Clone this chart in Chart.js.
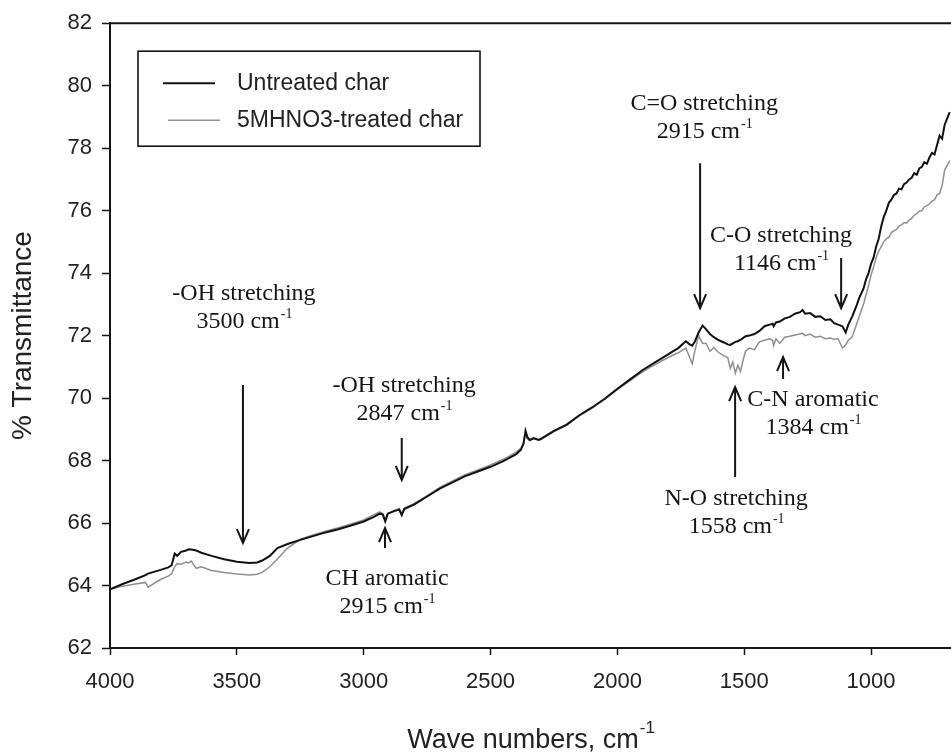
<!DOCTYPE html>
<html>
<head>
<meta charset="utf-8">
<script src="https://cdn.jsdelivr.net/npm/chart.js@4.4.1/dist/chart.umd.min.js"></script>
<style>
  html, body { margin: 0; padding: 0; background: #fff; }
  canvas { display: block; }
</style>
</head>
<body>
<canvas id="ftir" width="951" height="754"></canvas>
<script>
// FTIR spectra of the two chars, wavenumber (cm-1) vs % transmittance
const wavenumbers = [
  4000, 3950, 3900, 3860, 3850, 3800, 3770, 3757, 3745, 3735,
  3720, 3700, 3690, 3680, 3660, 3640, 3600, 3550, 3500, 3450,
  3420, 3400, 3370, 3340, 3300, 3250, 3200, 3150, 3100, 3050,
  3000, 2960, 2937, 2925, 2915, 2905, 2880, 2860, 2850, 2840,
  2800, 2750, 2700, 2650, 2600, 2550, 2500, 2450, 2400, 2380,
  2370, 2362, 2355, 2345, 2330, 2310, 2300, 2250, 2200, 2150,
  2100, 2050, 2000, 1950, 1900, 1850, 1800, 1780, 1760, 1740,
  1730, 1715, 1705, 1695, 1680, 1664, 1650, 1635, 1620, 1600,
  1580, 1565, 1555, 1545, 1535, 1525, 1515, 1505, 1495, 1480,
  1460, 1440, 1420, 1400, 1388, 1384, 1375, 1360, 1340, 1320,
  1300, 1280, 1270, 1260, 1240, 1220, 1200, 1180, 1160, 1146,
  1130, 1113, 1100, 1090, 1075, 1060, 1047, 1030, 1020, 1010,
  1000, 990, 980, 970, 960, 950, 940, 930, 920, 910,
  900, 890, 880, 870, 860, 850, 840, 830, 820, 810,
  800, 790, 780, 770, 760, 750, 740, 730, 720, 710,
  700, 690
]

const untreated = [
  63.88, 64.05, 64.2, 64.33, 64.38, 64.5, 64.58, 64.65, 65.02, 64.95,
  65.08, 65.12, 65.16, 65.15, 65.12, 65.05, 64.95, 64.84, 64.76, 64.72,
  64.74, 64.8, 64.95, 65.2, 65.33, 65.46, 65.58, 65.7, 65.8, 65.92,
  66.05, 66.2, 66.3, 66.28, 66.05, 66.3, 66.38, 66.43, 66.25, 66.45,
  66.6, 66.85, 67.1, 67.3, 67.5, 67.65, 67.8, 67.98, 68.2, 68.35,
  68.55, 68.95, 68.75, 68.66, 68.72, 68.66, 68.7, 68.95, 69.15, 69.45,
  69.7, 69.98, 70.3, 70.6, 70.9, 71.15, 71.4, 71.5, 71.6, 71.75,
  71.82, 71.72, 71.68, 71.8, 72.1, 72.32, 72.2, 72.05, 71.95, 71.85,
  71.78, 71.72, 71.7, 71.75, 71.8, 71.82, 71.86, 71.92, 71.98, 72.0,
  72.05, 72.15, 72.3, 72.35, 72.38, 72.3, 72.42, 72.45, 72.55, 72.6,
  72.7, 72.75, 72.82, 72.7, 72.72, 72.6, 72.62, 72.5, 72.52, 72.4,
  72.35, 72.3, 72.1, 72.35, 72.6, 72.9, 73.2, 73.5, 73.8, 74.0,
  74.3, 74.5, 74.85, 75.1, 75.5, 75.8, 76.0, 76.25, 76.35, 76.5,
  76.55, 76.7, 76.68, 76.85, 76.9, 77.0, 77.05, 77.2, 77.15, 77.35,
  77.4, 77.55, 77.5, 77.7, 77.85, 77.8, 78.1, 78.4, 78.3, 78.75,
  78.95, 79.15
]

const treated = [
  63.88, 63.98, 64.05, 64.1, 63.95, 64.2, 64.3, 64.38, 64.6, 64.7,
  64.68, 64.75, 64.72, 64.78, 64.55, 64.6, 64.48, 64.42, 64.37, 64.34,
  64.36, 64.42, 64.6, 64.85, 65.2, 65.48, 65.62, 65.74, 65.85, 65.97,
  66.1, 66.27, 66.36, 66.3, 66.12, 66.3, 66.4, 66.47, 66.3, 66.48,
  66.63, 66.88, 67.14, 67.35, 67.55, 67.7, 67.86, 68.04, 68.26, 68.4,
  68.55, 68.9, 68.7, 68.64, 68.7, 68.65, 68.68, 68.93, 69.13, 69.43,
  69.68, 69.96, 70.27, 70.56, 70.85, 71.08, 71.3, 71.38, 71.45, 71.55,
  71.6, 71.3, 71.1, 71.5, 72.0, 71.75, 71.75, 71.5, 71.62, 71.45,
  71.35, 71.3, 70.95, 71.15, 70.8, 71.05, 70.85, 71.2, 71.5, 71.6,
  71.55, 71.8, 71.85, 71.9, 71.85, 71.68, 71.9, 71.75, 71.95, 71.98,
  72.02, 72.05, 72.08, 72.0, 72.05, 71.95, 71.98, 71.9, 71.92, 71.88,
  71.9, 71.6, 71.7, 71.85, 71.95, 72.3, 72.6, 73.0, 73.3, 73.6,
  73.95, 74.2, 74.5, 74.7, 74.85, 75.0, 75.1, 75.15, 75.3, 75.35,
  75.4, 75.5, 75.55, 75.62, 75.6, 75.7, 75.75, 75.85, 75.9, 75.98,
  76.0, 76.12, 76.15, 76.22, 76.3, 76.35, 76.5, 76.55, 76.8, 77.3,
  77.45, 77.6
]

const seriesNames = ['Untreated char', '5MHNO3-treated char']
const xTicks = [4000, 3500, 3000, 2500, 2000, 1500, 1000]

// band assignments written on the plot
const bandNames = ['-OH stretching', '-OH stretching', 'CH aromatic', 'C=O stretching', 'C-O stretching', 'C-N aromatic', 'N-O stretching']
const bandPeaks = ['3500', '2847', '2915', '2915', '1146', '1384', '1558']

// label anchor [cm-1, %T] and arrow [cm-1, tail %T, tip %T], in data units
const bandLayout = [
  { label: [3472, 73.14], arrow: [3476, 70.42, 65.36] },
  { label: [2841, 70.19], arrow: [2850, 68.72, 67.38] },
  { label: [2908, 64.02], arrow: [2916, 65.2, 65.84] },
  { label: [1658, 79.22], arrow: [1674, 77.52, 72.88] },
  { label: [1355, 74.99], arrow: [1118, 74.48, 72.88] },
  { label: [1229, 69.74], arrow: [1347, 70.61, 71.31] },
  { label: [1532, 66.58], arrow: [1536, 67.47, 70.35] },
]

const INK = '#151515'
const SANS = '"Liberation Sans", Arial, sans-serif'
const SERIF = '"Liberation Serif", "Times New Roman", serif'

// "cm" followed by a raised -1
const unitText = (ctx, cx, y, main, size) => {
  ctx.font = `${size}px ${SERIF}`
  const w1 = ctx.measureText(main).width
  ctx.font = `${Math.round(size * 0.6)}px ${SERIF}`
  const w2 = ctx.measureText('-1').width
  const x0 = cx - (w1 + w2) / 2
  ctx.textAlign = 'left'
  ctx.font = `${size}px ${SERIF}`
  ctx.fillText(main, x0, y)
  ctx.font = `${Math.round(size * 0.6)}px ${SERIF}`
  ctx.fillText('-1', x0 + w1 + 1, y - size * 0.42)
}

const bandsPlugin = {
  id: 'bands',
  afterDatasetsDraw(chart) {
    const { ctx, scales: { x, y } } = chart
    ctx.save()
    ctx.fillStyle = INK
    ctx.strokeStyle = INK
    ctx.lineWidth = 2
    ctx.textBaseline = 'alphabetic'
    bandLayout.forEach((b, i) => {
      const cx = x.getPixelForValue(b.label[0])
      const by = y.getPixelForValue(b.label[1])
      ctx.font = `24px ${SERIF}`
      ctx.textAlign = 'center'
      ctx.fillText(bandNames[i], cx, by)
      unitText(ctx, cx, by + 28, bandPeaks[i] + ' cm', 24)

      const ax = x.getPixelForValue(b.arrow[0])
      const tail = y.getPixelForValue(b.arrow[1])
      const tip = y.getPixelForValue(b.arrow[2])
      const dir = tip > tail ? 1 : -1
      ctx.beginPath()
      ctx.moveTo(ax, tail)
      ctx.lineTo(ax, tip)
      ctx.moveTo(ax - 6, tip - dir * 14)
      ctx.lineTo(ax, tip)
      ctx.lineTo(ax + 6, tip - dir * 14)
      ctx.stroke()
    })
    ctx.restore()
  },
}

const framePlugin = {
  id: 'frame',
  afterDraw(chart) {
    const { ctx, chartArea: area } = chart
    ctx.save()
    // top edge of the plot box
    ctx.strokeStyle = INK
    ctx.lineWidth = 2
    ctx.beginPath()
    ctx.moveTo(area.left, area.top)
    ctx.lineTo(area.right, area.top)
    ctx.stroke()

    // legend box
    const lx = area.left + 28, ly = area.top + 28
    ctx.lineWidth = 1.6
    ctx.strokeRect(lx, ly, 342, 95)
    ctx.font = `23px ${SANS}`
    ctx.textAlign = 'left'
    ctx.textBaseline = 'middle'
    chart.data.datasets.forEach((ds, i) => {
      const ry = ly + 32 + i * 37
      ctx.strokeStyle = ds.borderColor
      ctx.lineWidth = ds.borderWidth
      ctx.beginPath()
      ctx.moveTo(lx + 25 + i * 5, ry)
      ctx.lineTo(lx + 77 + i * 5, ry)
      ctx.stroke()
      ctx.fillStyle = '#222'
      ctx.fillText(ds.label, lx + 99, ry)
    })

    // x axis title with superscript unit
    const main = 'Wave numbers, cm'
    ctx.fillStyle = '#222'
    ctx.textBaseline = 'alphabetic'
    ctx.font = `27px ${SANS}`
    const w1 = ctx.measureText(main).width
    ctx.font = `17px ${SANS}`
    const w2 = ctx.measureText('-1').width
    const x0 = (area.left + area.right) / 2 - (w1 + w2) / 2
    const base = chart.height - 6
    ctx.font = `27px ${SANS}`
    ctx.fillText(main, x0, base)
    ctx.font = `17px ${SANS}`
    ctx.fillText('-1', x0 + w1 + 1, base - 15)
    ctx.restore()
  },
}

const toPoints = values => wavenumbers.map((w, i) => ({ x: w, y: values[i] }))

new Chart(document.getElementById('ftir'), {
  type: 'line',
  data: {
    datasets: [
      { label: seriesNames[0], data: toPoints(untreated), borderColor: '#111', borderWidth: 2 },
      { label: seriesNames[1], data: toPoints(treated), borderColor: '#8f8f8f', borderWidth: 1.5 },
    ],
  },
  options: {
    responsive: false,
    animation: false,
    events: [],
    elements: { point: { radius: 0 }, line: { tension: 0 } },
    layout: { padding: { top: 23, right: 0, left: 0, bottom: 0 } },
    plugins: { legend: { display: false }, tooltip: { enabled: false } },
    scales: {
      x: {
        type: 'linear',
        reverse: true,
        min: 685,
        max: 4000,
        afterBuildTicks: s => { s.ticks = xTicks.map(value => ({ value })) },
        afterFit: s => { s.height = 106 },
        grid: { drawOnChartArea: false, tickLength: 7, tickColor: INK, tickWidth: 1.5 },
        border: { color: INK, width: 2 },
        ticks: {
          color: '#222',
          font: { family: SANS, size: 22 },
          padding: 14,
          maxRotation: 0,
          autoSkip: false,
          callback: v => String(v),
        },
      },
      y: {
        min: 62,
        max: 82,
        afterFit: s => { s.width = 110 },
        grid: { drawOnChartArea: false, tickLength: 8, tickColor: INK, tickWidth: 1.5 },
        border: { color: INK, width: 2 },
        ticks: { stepSize: 2, color: '#222', font: { family: SANS, size: 22 }, padding: 10 },
        title: { display: true, text: '% Transmittance', color: '#222', font: { family: SANS, size: 28 }, padding: { top: 6 } },
      },
    },
  },
  plugins: [bandsPlugin, framePlugin],
})
</script>
</body>
</html>
